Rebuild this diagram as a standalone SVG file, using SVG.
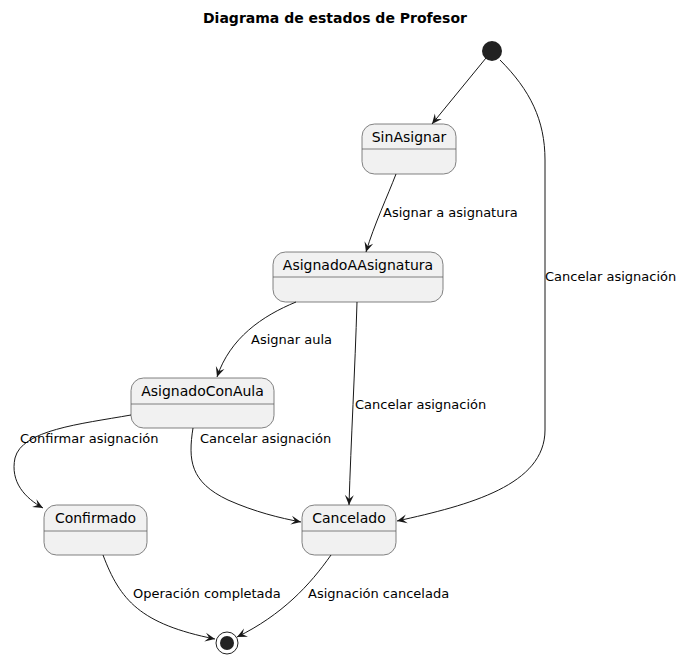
<svg xmlns="http://www.w3.org/2000/svg" width="683" height="659" viewBox="0 0 683 659">
<style>
.st rect{fill:#F1F1F1;stroke:#5A5A5A;stroke-width:0.75}
.st line{stroke:#5A5A5A;stroke-width:0.75}
.nm{font-family:"DejaVu Sans",sans-serif;font-size:14px;fill:#000;text-anchor:middle}
.lb{font-family:"DejaVu Sans",sans-serif;font-size:13px;fill:#000}
.e path{fill:none;stroke:#181818;stroke-width:1;marker-end:url(#ah)}
</style>
<defs>
<marker id="ah" markerUnits="userSpaceOnUse" markerWidth="12" markerHeight="10" refX="10" refY="4.5" orient="auto" overflow="visible">
<path d="M0,0 L10,4.5 L0,9 L4,4.5 Z" fill="#181818"/>
</marker>
</defs>
<rect width="683" height="659" fill="#FFFFFF"/>
<text x="335" y="23" font-family="DejaVu Sans,sans-serif" font-size="14" font-weight="bold" text-anchor="middle">Diagrama de estados de Profesor</text>

<g id="start"><circle cx="492" cy="51" r="10" fill="#222222"/></g>
<g id="SinAsignar" class="st"><rect x="362" y="124" width="94" height="50" rx="12.5"/><line x1="362" y1="149" x2="456" y2="149"/><text class="nm" x="409" y="142">SinAsignar</text></g>
<g id="AsignadoAAsignatura" class="st"><rect x="273" y="252" width="170" height="50" rx="12.5"/><line x1="273" y1="277" x2="443" y2="277"/><text class="nm" x="358" y="270">AsignadoAAsignatura</text></g>
<g id="AsignadoConAula" class="st"><rect x="131" y="378" width="143" height="50" rx="12.5"/><line x1="131" y1="404" x2="274" y2="404"/><text class="nm" x="202.5" y="396">AsignadoConAula</text></g>
<g id="Confirmado" class="st"><rect x="44" y="505" width="103" height="50" rx="12.5"/><line x1="44" y1="531" x2="147" y2="531"/><text class="nm" x="95.5" y="523">Confirmado</text></g>
<g id="Cancelado" class="st"><rect x="302" y="505" width="94" height="50" rx="12.5"/><line x1="302" y1="531" x2="396" y2="531"/><text class="nm" x="349" y="523">Cancelado</text></g>
<g id="end"><circle cx="227" cy="643" r="11" fill="none" stroke="#222222" stroke-width="1"/><circle cx="227" cy="643" r="7" fill="#222222"/></g>

<g id="connectors" class="e">
<path d="M486,58 L432,124"/>
<path d="M396,174 C388,195 374,225 366,252"/>
<path d="M296,302 C262,316 230,338 217,377"/>
<path d="M357,302 C355,370 351,440 349,505"/>
<path d="M131,415 C80,424 22,430 15,458 C10,482 25,498 43,508"/>
<path d="M193,428 C188,460 190,482 228,500 C255,512 280,518 301,522"/>
<path d="M500,60 C530,90 545,120 545,160 L545,430 C545,485 470,505 397,521"/>
<path d="M103,555 C120,600 140,624 215,639"/>
<path d="M331,555 C310,585 282,615 237,637"/>
</g>
<g id="labels">
<text class="lb" x="383" y="217">Asignar a asignatura</text>
<text class="lb" x="251" y="344">Asignar aula</text>
<text class="lb" x="355" y="409">Cancelar asignación</text>
<text class="lb" x="20" y="443">Confirmar asignación</text>
<text class="lb" x="200" y="443">Cancelar asignación</text>
<text class="lb" x="545" y="281">Cancelar asignación</text>
<text class="lb" x="133" y="598">Operación completada</text>
<text class="lb" x="308" y="598">Asignación cancelada</text>
</g>
</svg>
